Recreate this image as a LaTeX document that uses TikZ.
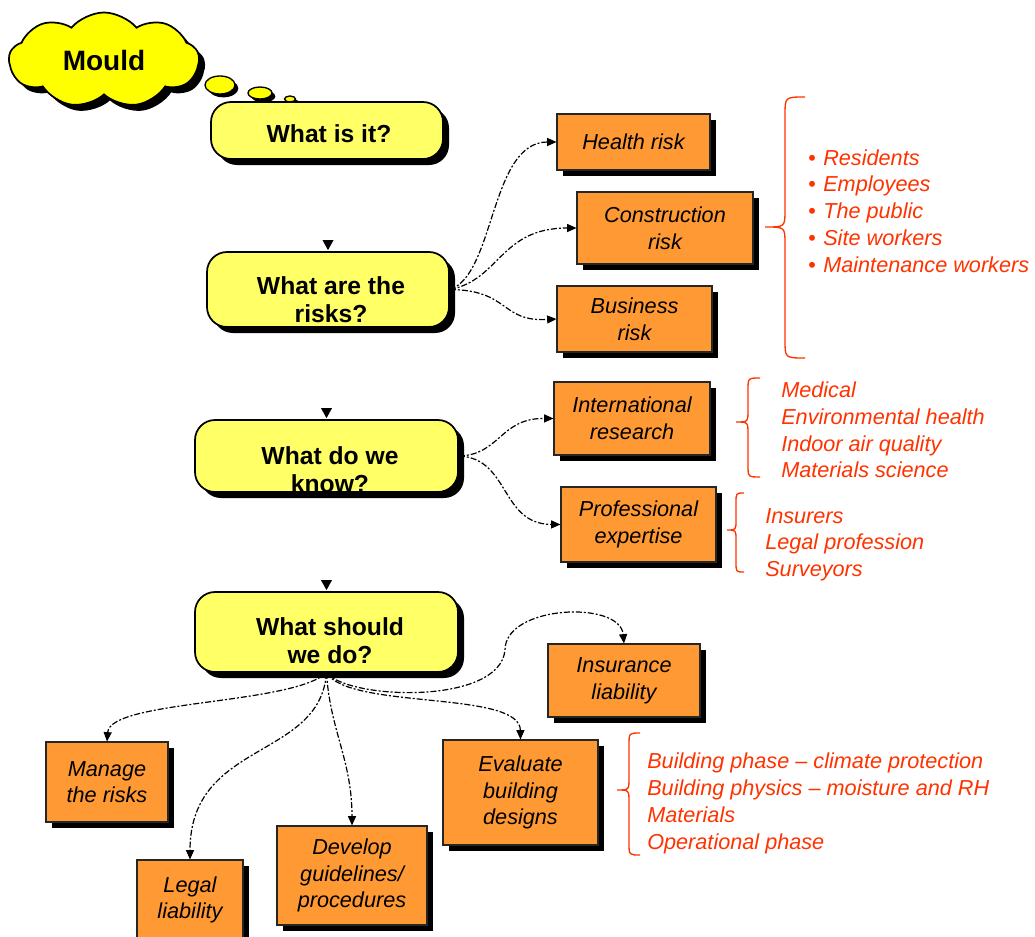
\documentclass[tikz,border=0pt]{standalone}
\usepackage{fontspec}
\setmainfont{Liberation Sans}
\usetikzlibrary{shapes.symbols,shapes.geometric,shadows,arrows.meta,calc}
\definecolor{boxorange}{HTML}{FF9933}
\definecolor{boxyellow}{HTML}{FFFF66}
\definecolor{cloudyellow}{HTML}{FFFF00}
\definecolor{listred}{HTML}{FF3300}
\newcommand\pxu{0.75pt}
\tikzset{
  shd/.style={drop shadow={shadow xshift=4.5pt, shadow yshift=-4.5pt, opacity=1, fill=black}},
  obox/.style={draw=black!85, line width=0.8pt, fill=boxorange, shd, inner sep=0pt, align=center,
    font=\itshape\fontsize{16.25}{20}\selectfont},
  ybox/.style={draw=black, line width=1.3pt, fill=boxyellow, rounded corners=15pt, shd, inner sep=0pt},
  qtext/.style={font=\bfseries\fontsize{18.5}{21}\selectfont, align=center, inner sep=0pt},
  conn/.style={line width=0.9pt, dash pattern=on 4.5pt off 1.5pt on 1.5pt off 1.5pt,
    -{Triangle[length=7pt,width=6pt]}},
  rbrace/.style={draw=listred, line width=1pt},
  rtext/.style={text=listred, font=\itshape\fontsize{16.25}{20}\selectfont, anchor=base west, inner sep=0pt},
  rbullet/.style={text=listred, font=\fontsize{16.25}{20}\selectfont, anchor=base west, inner sep=0pt},
  bubble/.style={ellipse, draw=black, line width=1pt, fill=cloudyellow, inner sep=0pt,
    drop shadow={shadow xshift=2.5pt, shadow yshift=-2.5pt, opacity=1, fill=black}},
}
\begin{document}
\begin{tikzpicture}[x=0.75pt,y=0.75pt]
\useasboundingbox (0,0) rectangle (1035,-936);
\fill[white] (0,0) rectangle (1035,-936);

% cloud and bubbles
\node[cloud, cloud puffs=9, cloud puff arc=100, aspect=2.2, draw=black, line width=1.3pt, fill=cloudyellow, shd,
  minimum width=190*\pxu, minimum height=95*\pxu, inner sep=0pt,
  font=\bfseries\fontsize{21}{24}\selectfont] (cloud) at (104,-60) {Mould};
\node[bubble, minimum width=30*\pxu, minimum height=18*\pxu] (b1) at (220,-85) {};
\node[bubble, minimum width=24*\pxu, minimum height=12*\pxu] (b2) at (260,-93) {};
\node[bubble, minimum width=11*\pxu, minimum height=6*\pxu] (b3) at (290,-99) {};

% question boxes
\node[ybox, minimum width=232*\pxu, minimum height=57*\pxu] (q1) at (327,-130.5) {};
\node[qtext] (q1t) at (329,-134) {What is it?};
\node[ybox, minimum width=242*\pxu, minimum height=75*\pxu] (q2) at (328,-289.5) {};
\node[qtext] (q2t) at (331,-300) {What are the\\risks?};
\node[ybox, minimum width=263*\pxu, minimum height=72*\pxu] (q3) at (326.5,-456) {};
\node[qtext] (q3t) at (330,-470) {What do we\\know?};
\node[ybox, minimum width=263*\pxu, minimum height=80*\pxu] (q4) at (326.5,-632) {};
\node[qtext] (q4t) at (330,-641) {What should\\we do?};

% little arrow heads above question boxes
\foreach \q in {q2,q3,q4}{
  \fill ($(\q.north)+(-5.5,11)$) -- ++(11,0) -- ($(\q.north)+(0,1)$) -- cycle;
}

% orange boxes
\node[obox, minimum width=153*\pxu, minimum height=56*\pxu] (health) at (633.5,-142) {Health risk};
\node[obox, minimum width=176*\pxu, minimum height=72*\pxu] (constr) at (665,-228) {Construction\\risk};
\node[obox, minimum width=155*\pxu, minimum height=66*\pxu] (business) at (634.5,-319) {Business\\risk};
\node[obox, minimum width=156*\pxu, minimum height=73*\pxu] (intl) at (632,-418.5) {International\\research};
\node[obox, minimum width=155*\pxu, minimum height=75*\pxu] (prof) at (638.5,-524.5) {Professional\\expertise};
\node[obox, minimum width=152*\pxu, minimum height=73*\pxu] (insur) at (624,-680.5) {Insurance\\liability};
\node[obox, minimum width=122*\pxu, minimum height=80*\pxu] (manage) at (107,-782) {Manage\\the risks};
\node[obox, minimum width=106*\pxu, minimum height=80*\pxu] (legal) at (190,-900) {Legal\\liability};
\node[obox, minimum width=150*\pxu, minimum height=99*\pxu] (develop) at (352,-875.5) {Develop\\guidelines/\\procedures};
\node[obox, minimum width=155*\pxu, minimum height=105*\pxu] (evaluate) at (520.5,-792.5) {Evaluate\\building\\designs};

% connectors
\draw[conn] (q2.east) .. controls (495,-275) and (490,-142) .. (health.west);
\draw[conn] (q2.east) .. controls (500,-280) and (500,-228) .. (constr.west);
\draw[conn] (q2.east) .. controls (510,-290) and (500,-322) .. (business.west);
\draw[conn] (q3.east) .. controls (500,-455) and (500,-418) .. (intl.west);
\draw[conn] (q3.east) .. controls (510,-458) and (500,-524) .. (prof.west);
\draw[conn] (q4.south) .. controls (290,-705) and (110,-700) .. (manage.north);
\draw[conn] (q4.south) .. controls (320,-760) and (190,-740) .. (legal.north);
\draw[conn] (q4.south) .. controls (330,-730) and (352,-760) .. (develop.north);
\draw[conn] (q4.south) .. controls (350,-710) and (520,-690) .. (evaluate.north);
\draw[conn] (q4.south) .. controls (350,-700) and (500,-705) .. (505,-650)
   .. controls (505,-605) and (620,-600) .. (insur.north);

% braces
\draw[rbrace] (805,-97) .. controls (785,-97) .. (785,-115) -- (785,-210)
  .. controls (785,-227) .. (765,-227) .. controls (785,-227) .. (785,-244)
  -- (785,-340) .. controls (785,-358) .. (805,-358);
\draw[rbrace] (760,-378) .. controls (748,-378) .. (748,-390) -- (748,-410)
  .. controls (748,-422) .. (736,-422) .. controls (748,-422) .. (748,-434)
  -- (748,-465) .. controls (748,-477) .. (760,-477);
\draw[rbrace] (744,-493) .. controls (736,-493) .. (736,-503) -- (736,-520)
  .. controls (736,-530) .. (727,-530) .. controls (736,-530) .. (736,-540)
  -- (736,-562) .. controls (736,-572) .. (744,-572);
\draw[rbrace] (640,-733) .. controls (629,-733) .. (629,-745) -- (629,-778)
  .. controls (629,-790) .. (617,-790) .. controls (629,-790) .. (629,-802)
  -- (629,-843) .. controls (629,-855) .. (640,-855);

% lists
\foreach \t/\y [count=\i] in {Residents/165, Employees/191, The public/218, Site workers/245, Maintenance workers/272}{
  \node[rbullet] (ba\i) at (808,-\y) {•};
  \node[rtext] (la\i) at (823,-\y) {\t};
}
\foreach \t/\y [count=\i] in {Medical/397, Environmental health/424, Indoor air quality/451, Materials science/477}{
  \node[rtext] (lb\i) at (781,-\y) {\t};
}
\foreach \t/\y [count=\i] in {Insurers/523, Legal profession/549, Surveyors/576}{
  \node[rtext] (lc\i) at (765,-\y) {\t};
}
\foreach \t/\y [count=\i] in {Building phase -- climate protection/768, Building physics -- moisture and RH/795, Materials/822, Operational phase/849}{
  \node[rtext] (ld\i) at (647,-\y) {\t};
}
\end{tikzpicture}
\end{document}
